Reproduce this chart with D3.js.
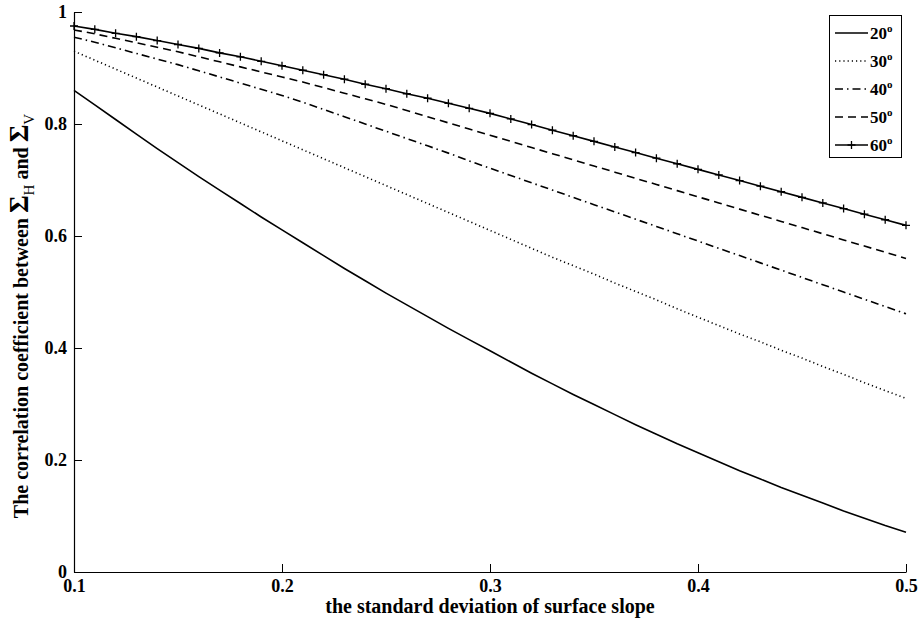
<!DOCTYPE html>
<html>
<head>
<meta charset="utf-8">
<script src="https://cdn.jsdelivr.net/npm/d3@7"></script>
<style>
  html, body { margin: 0; padding: 0; background: #fff; }
  svg { display: block; }
  text { font-family: "Liberation Serif", "Times New Roman", serif; fill: #000; }
</style>
</head>
<body>
<svg id="chart" width="923" height="626"></svg>
<script>
// Standard deviation of surface slope (x), sampled every 0.01
const slope = d3.range(41).map(i => +(0.1 + i * 0.01).toFixed(2));

// Correlation coefficient between Σ_H and Σ_V for each incidence angle
const corr20 = [0.860, 0.834, 0.808, 0.782, 0.756, 0.731, 0.706, 0.682, 0.658, 0.634,
                0.611, 0.588, 0.565, 0.542, 0.520, 0.498, 0.477, 0.456, 0.435, 0.415,
                0.395, 0.375, 0.355, 0.336, 0.317, 0.299, 0.281, 0.263, 0.246, 0.229,
                0.213, 0.197, 0.181, 0.166, 0.151, 0.137, 0.123, 0.109, 0.096, 0.083, 0.071];
const corr30 = [0.930, 0.914, 0.898, 0.882, 0.866, 0.850, 0.834, 0.818, 0.802, 0.786,
                0.770, 0.754, 0.738, 0.722, 0.706, 0.690, 0.674, 0.658, 0.642, 0.626,
                0.610, 0.594, 0.578, 0.562, 0.547, 0.532, 0.516, 0.501, 0.486, 0.470,
                0.455, 0.440, 0.425, 0.411, 0.396, 0.382, 0.367, 0.353, 0.338, 0.324, 0.310];
const corr40 = [0.955, 0.946, 0.936, 0.926, 0.916, 0.906, 0.895, 0.884, 0.873, 0.862,
                0.851, 0.839, 0.826, 0.813, 0.800, 0.787, 0.774, 0.761, 0.748, 0.734,
                0.721, 0.708, 0.695, 0.682, 0.669, 0.656, 0.643, 0.630, 0.617, 0.604,
                0.591, 0.578, 0.565, 0.552, 0.539, 0.526, 0.513, 0.500, 0.487, 0.474, 0.461];
const corr50 = [0.968, 0.961, 0.953, 0.945, 0.937, 0.929, 0.920, 0.911, 0.902, 0.893,
                0.884, 0.875, 0.865, 0.855, 0.845, 0.835, 0.824, 0.813, 0.802, 0.791,
                0.780, 0.769, 0.758, 0.747, 0.736, 0.725, 0.714, 0.703, 0.692, 0.681,
                0.670, 0.659, 0.648, 0.637, 0.626, 0.615, 0.604, 0.593, 0.582, 0.571, 0.560];
const corr60 = [0.975, 0.969, 0.962, 0.956, 0.949, 0.942, 0.935, 0.927, 0.920, 0.912,
                0.904, 0.896, 0.888, 0.880, 0.871, 0.863, 0.854, 0.846, 0.837, 0.828,
                0.819, 0.809, 0.799, 0.789, 0.779, 0.769, 0.759, 0.749, 0.739, 0.729,
                0.719, 0.709, 0.699, 0.689, 0.679, 0.669, 0.659, 0.649, 0.639, 0.629, 0.619];

const angles = ["20", "30", "40", "50", "60"];
const xTicks = [0.1, 0.2, 0.3, 0.4, 0.5];
const yTicks = [0, 0.2, 0.4, 0.6, 0.8, 1];

const seriesList = [
  { angle: angles[0], values: corr20, dash: null,        marker: false },
  { angle: angles[1], values: corr30, dash: "1.2,3",     marker: false },
  { angle: angles[2], values: corr40, dash: "8,4,1.5,4", marker: false },
  { angle: angles[3], values: corr50, dash: "8,5",       marker: false },
  { angle: angles[4], values: corr60, dash: null,        marker: true  }
];

const svg = d3.select("#chart");
const margin = { left: 74, right: 17, top: 12, bottom: 54 };
const W = 923, H = 626;

const x = d3.scaleLinear().domain([0.1, 0.5]).range([margin.left, W - margin.right]);
const y = d3.scaleLinear().domain([0, 1]).range([H - margin.bottom, margin.top]);

// Axes: ticks point inward, only left and bottom spines
const xAxis = svg.append("g")
  .attr("transform", `translate(0,${y(0)})`)
  .call(d3.axisBottom(x).tickValues(xTicks).tickSizeInner(-8).tickSizeOuter(0)
    .tickPadding(4).tickFormat(d3.format(".1f")));
const yAxis = svg.append("g")
  .attr("transform", `translate(${x(0.1)},0)`)
  .call(d3.axisLeft(y).tickValues(yTicks).tickSizeInner(-8).tickSizeOuter(0)
    .tickPadding(6).tickFormat(d => d === 0 || d === 1 ? String(d) : d3.format(".1f")(d)));

[xAxis, yAxis].forEach(g => {
  g.attr("font-size", null).attr("font-family", null);
  g.select(".domain").attr("stroke", "#000").attr("stroke-width", 1.2);
  g.selectAll(".tick line").attr("stroke", "#000").attr("stroke-width", 1);
  g.selectAll(".tick text")
    .style("font-family", '"Liberation Serif", "Times New Roman", serif')
    .style("font-size", "18px").style("font-weight", "bold").attr("fill", "#000");
});
xAxis.selectAll(".tick text").attr("dy", "0.9em");
yAxis.selectAll(".tick text").attr("dx", "-1");

// Curves
const line = d3.line().x((d, i) => x(slope[i])).y(d => y(d));
const plot = svg.append("g");
seriesList.forEach(s => {
  plot.append("path")
    .attr("d", line(s.values))
    .attr("fill", "none")
    .attr("stroke", "#000")
    .attr("stroke-width", 1.6)
    .attr("stroke-dasharray", s.dash);
  if (s.marker) {
    plot.append("g").selectAll("path.mk")
      .data(s.values)
      .join("path")
      .attr("class", "mk")
      .attr("d", (d, i) => {
        const cx = x(slope[i]), cy = y(d), r = 4;
        return `M${cx - r},${cy}H${cx + r}M${cx},${cy - r}V${cy + r}`;
      })
      .attr("stroke", "#000")
      .attr("stroke-width", 1.3);
  }
});

// Legend
const legend = svg.append("g");
legend.append("rect")
  .attr("x", 829.5).attr("y", 15.5).attr("width", 72).attr("height", 142)
  .attr("fill", "#fff").attr("stroke", "#000").attr("stroke-width", 1);
seriesList.forEach((s, i) => {
  const ly = 33 + i * 28;
  legend.append("line")
    .attr("x1", 835).attr("x2", 868).attr("y1", ly).attr("y2", ly)
    .attr("stroke", "#000").attr("stroke-width", 1.6)
    .attr("stroke-dasharray", s.dash);
  if (s.marker) {
    legend.append("path")
      .attr("d", `M${851.5 - 4},${ly}H${851.5 + 4}M${851.5},${ly - 4}V${ly + 4}`)
      .attr("stroke", "#000").attr("stroke-width", 1.3);
  }
  const t = legend.append("text")
    .attr("x", 870).attr("y", ly + 6)
    .style("font-size", "17px").style("font-weight", "bold");
  t.append("tspan").text(s.angle);
  t.append("tspan").attr("dy", -7).style("font-size", "11px").text("o");
});

// Axis titles
svg.append("text")
  .attr("x", x(0.3)).attr("y", 613)
  .attr("text-anchor", "middle")
  .style("font-size", "20px").style("font-weight", "bold")
  .text("the standard deviation of surface slope");

const yt = svg.append("text")
  .attr("transform", `translate(28,316) rotate(-90)`)
  .attr("text-anchor", "middle")
  .style("font-size", "20px").style("font-weight", "bold");
yt.append("tspan").text("The correlation coefficient between ");
yt.append("tspan").style("font-size", "27px").text("Σ");
yt.append("tspan").attr("dy", 6).style("font-size", "15px").style("font-weight", "normal").text("H");
yt.append("tspan").attr("dy", -6).text(" and ");
yt.append("tspan").style("font-size", "27px").text("Σ");
yt.append("tspan").attr("dy", 6).style("font-size", "15px").style("font-weight", "normal").text("V");
</script>
</body>
</html>
